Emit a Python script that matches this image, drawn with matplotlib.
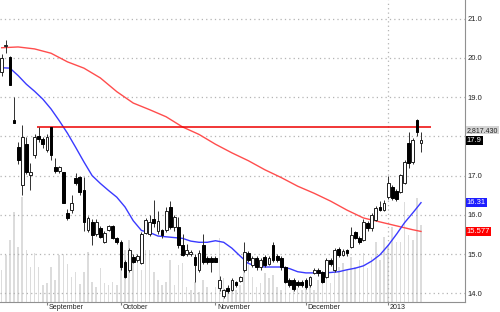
import matplotlib
matplotlib.use("Agg")
import matplotlib.pyplot as plt
import numpy as np

# daily candles, oldest first
opens = [19.65, 20.30, 20.03, 18.42, 17.73, 16.76, 17.81, 17.01, 17.53, 18.00,
         17.93, 17.66, 18.23, 17.22, 17.12, 17.09, 16.05, 16.12, 16.94, 16.97,
         16.63, 15.61, 15.82, 15.50, 15.66, 15.31, 15.61, 15.71, 15.41, 15.31,
         14.80, 14.60, 14.93, 14.85, 14.77, 15.54, 15.50, 15.89, 15.60, 15.61,
         15.61, 16.20, 15.70, 15.70, 15.23, 15.00, 15.00, 14.93, 14.60, 15.23,
         14.90, 14.90, 14.90, 14.13, 13.93, 14.13, 14.08, 14.28, 14.31, 14.60,
         15.03, 14.72, 14.90, 14.67, 14.93, 14.75, 15.23, 14.95, 14.90, 14.67,
         14.33, 14.33, 14.30, 14.30, 14.33, 14.20, 14.52, 14.60, 14.54, 14.41,
         14.85, 14.60, 15.13, 14.98, 15.10, 15.18, 15.56, 15.41, 15.36, 15.79,
         15.66, 15.87, 16.20, 16.12, 16.46, 16.71, 16.60, 16.58, 16.81, 17.83,
         17.35, 18.42, 17.83]
highs = [20.10, 20.46, 20.05, 19.00, 17.85, 18.29, 17.99, 17.32, 18.05, 18.23,
         17.99, 18.05, 18.23, 17.45, 17.25, 17.10, 16.15, 16.50, 17.07, 17.00,
         16.97, 15.98, 15.90, 15.90, 15.72, 15.60, 15.75, 15.75, 15.44, 15.35,
         14.85, 15.15, 15.00, 15.00, 15.55, 15.92, 16.00, 16.38, 16.10, 15.65,
         16.20, 16.35, 16.00, 15.95, 15.50, 15.25, 15.10, 15.00, 15.10, 15.50,
         14.95, 14.95, 14.95, 14.45, 14.10, 14.20, 14.38, 14.32, 14.45, 15.30,
         15.08, 14.95, 14.95, 14.90, 14.98, 14.95, 15.30, 15.00, 14.95, 14.70,
         14.38, 14.38, 14.33, 14.35, 14.38, 14.45, 14.65, 14.65, 14.58, 14.90,
         14.90, 15.15, 15.18, 15.12, 15.12, 15.70, 15.60, 15.45, 15.90, 15.85,
         16.05, 16.22, 16.35, 16.38, 17.00, 16.75, 16.65, 17.05, 17.40, 18.10,
         17.95, 18.45, 18.10]
lows = [19.55, 20.13, 19.30, 18.34, 17.30, 16.51, 17.05, 16.63, 17.45, 17.85,
        17.70, 17.60, 17.40, 17.07, 17.07, 16.30, 15.87, 16.04, 16.75, 16.50,
        15.60, 15.55, 15.23, 15.45, 15.40, 15.28, 15.58, 15.38, 15.25, 14.60,
        14.40, 14.54, 14.78, 14.80, 14.75, 15.50, 15.45, 15.70, 15.50, 15.42,
        15.55, 15.65, 15.60, 15.15, 14.95, 14.95, 14.95, 14.28, 14.55, 14.75,
        14.75, 14.55, 14.80, 14.05, 13.88, 14.00, 14.05, 14.15, 14.28, 14.55,
        14.80, 14.68, 14.60, 14.60, 14.68, 14.72, 14.80, 14.80, 14.60, 14.25,
        14.15, 14.05, 14.15, 14.15, 14.10, 14.15, 14.48, 14.45, 14.25, 14.38,
        14.70, 14.55, 14.93, 14.95, 14.95, 15.15, 15.38, 15.25, 15.33, 15.60,
        15.60, 15.85, 16.10, 16.10, 16.40, 16.38, 16.35, 16.55, 16.78, 17.20,
        17.30, 18.00, 17.60]
closes = [20.00, 20.33, 19.31, 18.34, 17.40, 17.99, 17.09, 17.09, 17.99, 17.93,
          17.81, 17.99, 17.53, 17.12, 17.22, 16.30, 15.92, 16.30, 16.82, 16.58,
          15.82, 15.92, 15.49, 15.82, 15.44, 15.54, 15.71, 15.41, 15.31, 14.67,
          14.42, 15.10, 14.80, 14.95, 15.51, 15.87, 15.82, 15.79, 15.85, 15.49,
          16.10, 15.70, 15.95, 15.24, 14.98, 15.10, 15.06, 14.72, 15.03, 14.80,
          14.80, 14.80, 14.80, 14.33, 14.08, 14.05, 14.33, 14.20, 14.41, 15.05,
          14.85, 14.90, 14.67, 14.85, 14.72, 14.90, 14.85, 14.85, 14.67, 14.28,
          14.20, 14.10, 14.20, 14.20, 14.15, 14.41, 14.60, 14.52, 14.29, 14.85,
          14.75, 15.10, 14.98, 15.08, 15.03, 15.49, 15.41, 15.31, 15.82, 15.66,
          16.00, 16.18, 16.12, 16.30, 16.81, 16.43, 16.40, 17.02, 17.35, 17.32,
          17.91, 18.12, 17.90]
volumes = [3.2, 4.7, 6.2, 9.0, 5.5, 10.5, 5.2, 3.5, 4.9, 3.5,
           1.7, 1.9, 3.5, 2.2, 4.7, 4.8, 3.8, 2.5, 3.0, 1.8,
           3.0, 5.0, 2.0, 1.5, 3.4, 1.9, 1.7, 2.0, 1.7, 3.5,
           5.2, 6.2, 4.5, 4.0, 3.2, 5.2, 5.2, 3.0, 2.2, 1.7,
           2.0, 4.2, 1.7, 3.7, 3.9, 1.5, 1.2, 2.0, 1.0, 2.2,
           1.5, 1.0, 1.5, 6.4, 2.4, 1.5, 1.4, 1.2, 1.7, 3.4,
           3.7, 2.5, 1.5, 1.9, 2.9, 2.4, 2.7, 1.5, 1.2, 2.0,
           0.9, 1.2, 1.4, 1.2, 1.7, 1.9, 1.2, 2.2, 2.5, 3.4,
           1.9, 3.2, 3.5, 3.9, 3.2, 4.5, 3.5, 4.2, 4.9, 3.4,
           4.5, 6.0, 4.2, 6.5, 5.7, 7.5, 6.0, 6.0, 10.0, 6.7,
           6.2, 10.4, 7.7]

# moving averages sampled every other/fourth session
ma_short_idx = [0, 2, 4, 6, 8, 10, 12, 14, 16, 18, 20, 22, 24, 26, 28, 30, 32, 34,
                36, 38, 40, 42, 44, 46, 48, 50, 52, 54, 56, 58, 60, 62, 64, 66, 68,
                70, 72, 74, 76, 78, 80, 82, 84, 86, 88, 90, 92, 94, 96, 98, 100, 102]
ma_short = [19.75, 19.74, 19.55, 19.33, 19.15, 18.95, 18.70, 18.40, 18.08, 17.72,
            17.35, 17.00, 16.80, 16.62, 16.45, 16.20, 15.85, 15.60, 15.55, 15.46,
            15.44, 15.42, 15.40, 15.33, 15.30, 15.30, 15.34, 15.30, 15.15, 14.95,
            14.76, 14.70, 14.67, 14.67, 14.67, 14.63, 14.55, 14.52, 14.52, 14.52,
            14.53, 14.55, 14.60, 14.64, 14.70, 14.82, 14.98, 15.22, 15.50, 15.80,
            16.05, 16.31]
ma_long_idx = [0, 4, 8, 12, 16, 20, 24, 28, 32, 36, 40, 44, 48, 52, 56, 60, 64, 68,
               72, 76, 80, 84, 88, 92, 96, 100, 102]
ma_long = [20.26, 20.28, 20.23, 20.12, 19.90, 19.74, 19.49, 19.14, 18.85, 18.68,
           18.50, 18.24, 18.05, 17.80, 17.58, 17.38, 17.15, 16.95, 16.73, 16.55,
           16.35, 16.12, 15.92, 15.82, 15.72, 15.62, 15.577]

level = 18.23
level_start = 9
level_label = "2,817.430"

month_idx = [11, 29, 52, 74, 94]
month_names = ["September", "October", "November", "December", "2013"]
yticks = [14.0, 15.0, 16.0, 17.0, 19.0, 20.0, 21.0]
ygrid = [14, 15, 16, 17, 18, 19, 20, 21]

n = len(closes)
x = np.arange(n)

plt.rcParams['font.family'] = ['Liberation Sans', 'DejaVu Sans']
fig = plt.figure(figsize=(5.0, 3.12), dpi=100)
rect = [0.0, 10 / 312, 465 / 500, 302 / 312]
xlim = (-0.41, 112.7)

# volume in the back
axv = fig.add_axes(rect)
axv.bar(x, volumes, width=0.38, color='#dcdcdc', linewidth=0)
axv.set_xlim(*xlim)
axv.set_ylim(0, 30.2)
axv.axis('off')

ax = fig.add_axes(rect)
ax.patch.set_alpha(0)
ax.set_xlim(*xlim)
ax.set_ylim(13.778, 21.477)

for g in ygrid:
    ax.axhline(g, color='#b4b4b4', lw=0.9, ls=(0, (1, 2.5)), zorder=0)
ax.axvline(month_idx[-1], color='#b4b4b4', lw=0.9, ls=(0, (1, 2.5)), zorder=0)

# moving averages
ax.plot(ma_long_idx, ma_long, color='#ff4d4d', lw=1.0, zorder=2)
ax.plot(ma_short_idx, ma_short, color='#3a3aff', lw=1.0, zorder=2)

# horizontal level line
ax.hlines(level, level_start - 0.5, n + 1.5, color='#ee0000', lw=1.1, zorder=3)

# candles
o = np.array(opens)
c = np.array(closes)
ax.vlines(x, lows, highs, color='#303030', lw=0.7, zorder=4)
up = c >= o
bottoms = np.minimum(o, c)
heights = np.maximum(np.abs(c - o), 0.02)
ax.bar(x[up], heights[up], bottom=bottoms[up], width=0.68, color='white',
       edgecolor='#202020', linewidth=0.7, zorder=5)
ax.bar(x[~up], heights[~up], bottom=bottoms[~up], width=0.68, color='black',
       edgecolor='black', linewidth=0.7, zorder=5)

# axes styling
for s in ['left', 'top']:
    ax.spines[s].set_visible(False)
ax.spines['right'].set_color('#909090')
ax.spines['bottom'].set_color('#909090')
ax.yaxis.tick_right()
ax.set_yticks(yticks)
ax.set_yticklabels([f"{v:.1f}" for v in yticks])
ax.tick_params(axis='y', length=0, pad=2, labelsize=5.5, labelcolor='#222222')
ax.set_xticks(month_idx)
ax.set_xticklabels([])
ax.tick_params(axis='x', length=2.5, color='#808080', direction='out')
for mi, name in zip(month_idx, month_names):
    ax.annotate(name, xy=(mi, 0), xycoords=('data', 'axes fraction'),
                xytext=(1.2, -1.5), textcoords='offset points',
                ha='left', va='top', fontsize=5.1, color='#222222')

# price tags on the right axis
def tag(y, text, bg, fg, size=5.5):
    ax.annotate(text, xy=(1.0, y), xycoords=('axes fraction', 'data'),
                xytext=(1.4, 0), textcoords='offset points', ha='left', va='center',
                fontsize=size, color=fg, annotation_clip=False,
                bbox=dict(boxstyle='square,pad=0.12', fc=bg, ec='none'))

tag(level - 0.07, level_label, '#d4d4d4', '#222222', size=5.0)
tag(closes[-1], f"{closes[-1]:.1f}", 'black', 'white')
tag(ma_short[-1], f"{ma_short[-1]:.2f}", '#1e1eff', 'white')
tag(ma_long[-1], f"{ma_long[-1]:.3f}", '#ff0000', 'white')

fig.savefig("out.png", dpi=100, facecolor='white')
